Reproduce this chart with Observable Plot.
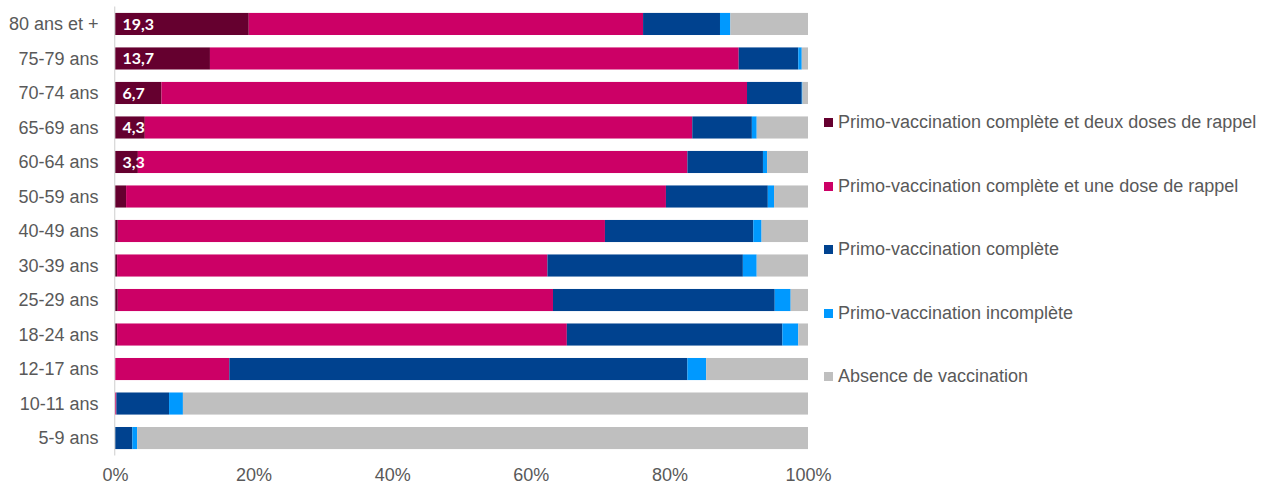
<!DOCTYPE html>
<html>
<head>
<meta charset="utf-8">
<script src="https://cdn.jsdelivr.net/npm/d3@7"></script>
<script src="https://cdn.jsdelivr.net/npm/@observablehq/plot@0.6"></script>
<style>
  html, body { margin: 0; padding: 0; background: #fff; }
  #wrap { position: relative; width: 1270px; height: 485px; font-family: "Liberation Sans", Arial, sans-serif; }
  #chart { position: absolute; left: 0; top: 0; }
  .leg { position: absolute; left: 824px; display: flex; align-items: center; font-size: 18px; color: #595959; white-space: nowrap; }
  .sw { width: 9px; height: 9px; margin-right: 5px; flex: none; }
</style>
</head>
<body>
<div id="wrap"><div id="chart"></div><div id="legend"></div></div>
<script>
const categories = ["80 ans et +", "75-79 ans", "70-74 ans", "65-69 ans", "60-64 ans", "50-59 ans", "40-49 ans", "30-39 ans", "25-29 ans", "18-24 ans", "12-17 ans", "10-11 ans", "5-9 ans"];
const series = [
  "Primo-vaccination complète et deux doses de rappel",
  "Primo-vaccination complète et une dose de rappel",
  "Primo-vaccination complète",
  "Primo-vaccination incomplète",
  "Absence de vaccination"
];
const colors = ["#65002f", "#cc0066", "#00428f", "#0099ff", "#bfbfbf"];
const deuxRappels  = [19.3, 13.7, 6.7, 4.3, 3.3, 1.6, 0.4, 0.3, 0.4, 0.3, 0, 0, 0];
const unRappel     = [56.9, 76.3, 84.5, 79.0, 79.3, 77.9, 70.3, 62.1, 62.8, 64.9, 16.5, 0.2, 0];
const complete     = [11.1, 8.6, 7.9, 8.6, 10.9, 14.7, 21.4, 28.2, 32.0, 31.1, 66.1, 7.6, 2.5];
const incomplete   = [1.5, 0.5, 0.1, 0.7, 0.6, 0.9, 1.2, 2.0, 2.3, 2.3, 2.7, 2.0, 0.7];
const absence      = [11.2, 0.9, 0.8, 7.4, 5.9, 4.9, 6.7, 7.4, 2.5, 1.4, 14.7, 90.2, 96.8];
const xTicks = [0, 20, 40, 60, 80, 100];

const seriesValues = [deuxRappels, unRappel, complete, incomplete, absence];
const data = [];
categories.forEach((c, i) => {
  series.forEach((s, j) => data.push({ age: c, serie: s, value: seriesValues[j][i] }));
});
const labels = categories.map((c, i) => ({ age: c, value: deuxRappels[i] })).filter(d => d.value >= 3);

const plot = Plot.plot({
  width: 840,
  height: 485,
  marginLeft: 115,
  marginRight: 32,
  marginTop: 0.5,
  marginBottom: 23.5,
  style: { fontFamily: "'Liberation Sans', Arial, sans-serif", fontSize: "18px", color: "#595959", background: "#fff", overflow: "visible" },
  x: { domain: [0, 100], ticks: xTicks, tickFormat: d => d + "%", label: null, tickSize: 0, tickPadding: 6 },
  y: { domain: categories, label: null, tickSize: 0, tickPadding: 17, paddingInner: 0.36, paddingOuter: 0.36, round: false },
  color: { domain: series, range: colors },
  marks: [
    Plot.barX(data, Plot.stackX({ y: "age", x: "value", fill: "serie", order: series })),
    Plot.ruleX([0], { stroke: "#d9d9d9", strokeWidth: 1.3, dx: -0.8, insetTop: 6, insetBottom: 6 }),
    Plot.text(labels, {
      x: 0, y: "age", text: d => d3.format(".1f")(d.value).replace(".", ","),
      dx: 7, textAnchor: "start", fill: "white", fontWeight: "bold",
      fontFamily: "Lato, 'Open Sans', sans-serif", fontSize: 16
    })
  ]
});
document.getElementById("chart").appendChild(plot);

const legendTops = [122.5, 186, 249.5, 313, 376.5];
const legend = document.getElementById("legend");
series.forEach((s, j) => {
  const item = document.createElement("div");
  item.className = "leg";
  item.style.top = (legendTops[j] - 11) + "px";
  item.style.height = "22px";
  const sw = document.createElement("span");
  sw.className = "sw";
  sw.style.background = colors[j];
  const t = document.createElement("span");
  t.textContent = s;
  item.appendChild(sw);
  item.appendChild(t);
  legend.appendChild(item);
});
</script>
</body>
</html>
